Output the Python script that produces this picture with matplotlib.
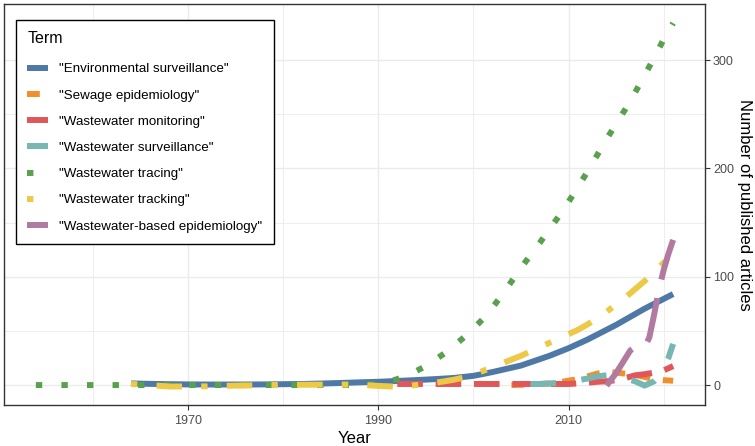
import matplotlib
matplotlib.use("Agg")
import matplotlib.pyplot as plt
from matplotlib.ticker import FixedLocator

plt.rcParams['font.family'] = ['Liberation Sans', 'DejaVu Sans']

# smoothed counts per term
env_years = [1964, 1966, 1968, 1970, 1972, 1974, 1976, 1978, 1980, 1982, 1984, 1986, 1988,
             1990, 1992, 1994, 1996, 1998, 2000, 2001, 2002, 2003, 2004, 2005, 2006, 2007,
             2008, 2009, 2010, 2011, 2012, 2013, 2014, 2015, 2016, 2017, 2018, 2019, 2020, 2021]
env_counts = [1.5, 1.1, 0.8, 0.6, 0.5, 0.5, 0.5, 0.6, 0.8, 1.0, 1.4, 1.9, 2.5,
              3.0, 3.8, 4.6, 5.5, 6.6, 8.5, 10.2, 12, 14, 16, 18, 21, 24,
              27, 30.5, 34, 38, 42, 46.5, 51, 55.5, 60.5, 65.5, 70.5, 75, 79.5, 84]

sewage_years = [2004, 2006, 2008, 2009, 2010, 2011, 2012, 2013, 2014, 2015, 2016, 2017,
                2018, 2019, 2020, 2021]
sewage_counts = [0, 0.5, 1.5, 2.5, 4, 5.5, 8, 10.5, 12, 11.5, 10.5, 9.5, 7.5, 5.5, 4.5, 4]

monitoring_years = [1992, 1996, 2000, 2004, 2008, 2010, 2011, 2012, 2013, 2014, 2015, 2016,
                    2017, 2018, 2019, 2020, 2021]
monitoring_counts = [1, 1, 1, 1, 1, 1, 1.5, 2.2, 3, 3.5, 4.5, 6.5, 9, 10, 11.5, 13.5, 17.5]

surveillance_years = [2006, 2007, 2008, 2009, 2010, 2011, 2012, 2013, 2014, 2015, 2016, 2017,
                      2018, 2019, 2019.5, 2020, 2020.5, 2021]
surveillance_counts = [1, 1, 1.5, 2, 3, 4.5, 6, 8, 9, 8, 6, 3.5, -0.5, 3.5, 8, 15, 25, 38]

tracing_years = [1954, 1960, 1970, 1980, 1988, 1990, 1991, 1992, 1993, 1994, 1995, 1996, 1997,
                 1998, 1999, 2000, 2001, 2002, 2003, 2004, 2005, 2006, 2007, 2008, 2009, 2010,
                 2011, 2012, 2013, 2014, 2015, 2016, 2017, 2018, 2019, 2020, 2021]
tracing_counts = [0, 0, 0, 0, 0, 1, 3, 5.5, 9, 13, 17.5, 23.5, 29.5,
                  36.5, 44, 52, 61, 71.5, 83, 95.5, 108, 120, 131.5, 144, 156, 169,
                  183, 197, 212, 227, 241, 255, 270, 286, 302, 319, 334]

tracking_years = [1964, 1966, 1968, 1970, 1972, 1974, 1976, 1978, 1980, 1982, 1984, 1986, 1988,
                  1990, 1992, 1993, 1994, 1995, 1996, 1997, 1998, 1999, 2000, 2001, 2002, 2003,
                  2004, 2005, 2006, 2007, 2008, 2009, 2010, 2011, 2012, 2013, 2014, 2015, 2016,
                  2017, 2018, 2019, 2020, 2021]
tracking_counts = [1, 0, -1.3, -1.3, -1.2, -0.7, -0.4, 0, 0.2, 0.3, 0.4, 0.5, 0.3,
                   -0.8, -1.5, -1, 0, 1, 2.2, 3.5, 5, 7, 10, 13, 16.5, 20,
                   23.5, 27, 31, 35, 39, 43, 47, 51, 56, 61.5, 67.5, 74.5, 81,
                   88.5, 96, 104, 113, 122]

wbe_years = [2014, 2015, 2016, 2016.5, 2017, 2017.5, 2018, 2018.5, 2019, 2019.5, 2020, 2020.5, 2021]
wbe_counts = [-0.5, 11, 25, 32, 35, 35, 35, 44, 65, 88, 106, 121, 134]

terms = ['"Environmental surveillance"', '"Sewage epidemiology"', '"Wastewater monitoring"',
         '"Wastewater surveillance"', '"Wastewater tracing"', '"Wastewater tracking"',
         '"Wastewater-based epidemiology"']
colors = ['#4E79A7', '#F28E2B', '#E15759', '#76B7B2', '#59A14F', '#EDC948', '#B07AA1']

u = 1.07  # dash unit relative to line width
linestyles = ['-', (0, (2*u, 2*u)), (0, (4*u, 2*u)), (0, (4*u, 4*u)), (0, (1*u, 3*u)),
              (0, (1*u, 3*u, 4*u, 3*u)), (0, (7*u, 3*u))]

series = [(env_years, env_counts), (sewage_years, sewage_counts),
          (monitoring_years, monitoring_counts), (surveillance_years, surveillance_counts),
          (tracing_years, tracing_counts), (tracking_years, tracking_counts),
          (wbe_years, wbe_counts)]

fig = plt.figure(figsize=(7.55, 4.46), dpi=100)
ax = fig.add_axes([4/755, 1 - 405/446, 701/755, 401/446])

for i, (xs, ys) in enumerate(series):
    ax.plot(xs, ys, color=colors[i], linestyle=linestyles[i], lw=4.3,
            solid_capstyle='butt', dash_capstyle='butt', label=terms[i], zorder=3 + i)

ax.set_xlim(1950.65, 2024.35)
ax.set_ylim(-18.4, 351.7)

ax.xaxis.set_major_locator(FixedLocator([1970, 1990, 2010]))
ax.xaxis.set_minor_locator(FixedLocator([1960, 1980, 2000, 2020]))
ax.yaxis.set_major_locator(FixedLocator([0, 100, 200, 300]))
ax.yaxis.set_minor_locator(FixedLocator([50, 150, 250]))
ax.yaxis.tick_right()
ax.yaxis.set_label_position('right')

ax.grid(which='major', color='#EBEBEB', lw=1.0)
ax.grid(which='minor', color='#EBEBEB', lw=0.6)
ax.set_axisbelow(True)

ax.tick_params(which='major', length=3.8, width=0.8, color='#333333',
               labelcolor='#4D4D4D', labelsize=9, pad=2)
ax.tick_params(axis='x', which='major', pad=3.5)
ax.tick_params(which='minor', length=0)
for sp in ax.spines.values():
    sp.set_color('#333333')
    sp.set_linewidth(1.0)

ax.set_xlabel('Year', fontsize=12, labelpad=2.5)
ax.set_ylabel('Number of published articles', fontsize=12, rotation=270,
              va='bottom', labelpad=2)

leg = ax.legend(title='Term', loc='upper left', bbox_to_anchor=(0.0171, 0.960),
                borderaxespad=0, fontsize=9.6, title_fontsize=11.5, handlelength=1.58,
                handletextpad=0.83, labelspacing=1.04, borderpad=0.85,
                fancybox=False, framealpha=1, edgecolor='black', alignment='left')
leg.get_frame().set_linewidth(1.0)
leg._legend_box.sep = 12

fig.savefig('out.png', dpi=100)
